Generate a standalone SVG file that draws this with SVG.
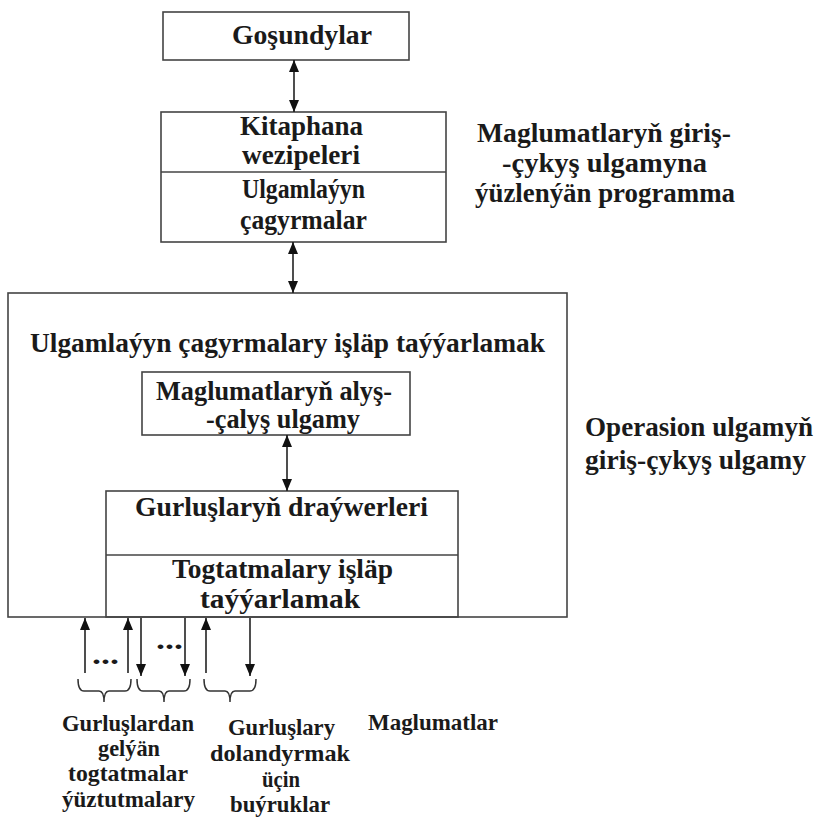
<svg xmlns="http://www.w3.org/2000/svg" width="817" height="818" viewBox="0 0 817 818">
  <style>
    .box { fill: none; stroke: #444; stroke-width: 1.6; }
    .div { stroke: #444; stroke-width: 1.4; }
    .t { font-family: "Liberation Serif", "Times New Roman", serif; font-weight: bold; font-size: 27px; fill: #1a1a1a; }
    .s { font-family: "Liberation Serif", "Times New Roman", serif; font-weight: bold; font-size: 23px; fill: #1a1a1a; }
    .d { font-family: "Liberation Serif", "Times New Roman", serif; font-weight: bold; font-size: 28px; fill: #1a1a1a; }
    .ln { stroke: #222; stroke-width: 1.6; fill: none; }
    .br { stroke: #333; stroke-width: 1.5; fill: none; }
  </style>
  <defs>
    <marker id="ah" viewBox="0 0 12 10" refX="12" refY="5" markerWidth="12" markerHeight="10" markerUnits="userSpaceOnUse" orient="auto-start-reverse">
      <path d="M0,0 L12,5 L0,10 z" fill="#111"/>
    </marker>
  </defs>
  <rect width="817" height="818" fill="#fff"/>

  <g id="gosundylar">
    <rect class="box" x="163" y="12" width="246" height="48"/>
    <text class="t" x="232" y="44" textLength="140" lengthAdjust="spacingAndGlyphs">Goşundylar</text>
  </g>

  <g id="kitaphana">
    <rect class="box" x="161" y="112" width="285" height="130"/>
    <line class="div" x1="161" y1="172" x2="446" y2="172"/>
    <text class="t" x="240" y="135" textLength="123" lengthAdjust="spacingAndGlyphs">Kitaphana</text>
    <text class="t" x="242" y="164" textLength="118" lengthAdjust="spacingAndGlyphs">wezipeleri</text>
    <text class="t" x="242" y="198" textLength="123" lengthAdjust="spacingAndGlyphs">Ulgamlaýyn</text>
    <text class="t" x="240" y="229" textLength="127" lengthAdjust="spacingAndGlyphs">çagyrmalar</text>
  </g>

  <g id="program-label">
    <text class="t" x="477" y="142" textLength="254" lengthAdjust="spacingAndGlyphs">Maglumatlaryň giriş-</text>
    <text class="t" x="502" y="172" textLength="205" lengthAdjust="spacingAndGlyphs">-çykyş ulgamyna</text>
    <text class="t" x="475" y="202" textLength="260" lengthAdjust="spacingAndGlyphs">ýüzlenýän programma</text>
  </g>

  <g id="os-io">
    <rect class="box" x="8" y="293" width="559" height="324"/>
    <text class="t" x="30" y="352" textLength="515" lengthAdjust="spacingAndGlyphs">Ulgamlaýyn çagyrmalary işläp taýýarlamak</text>
  </g>

  <g id="alys-calys">
    <rect class="box" x="142" y="372" width="268" height="63"/>
    <text class="t" x="156" y="400" textLength="236" lengthAdjust="spacingAndGlyphs">Maglumatlaryň alyş-</text>
    <text class="t" x="206" y="428" textLength="154" lengthAdjust="spacingAndGlyphs">-çalyş ulgamy</text>
  </g>

  <g id="drayverler">
    <rect class="box" x="106" y="491" width="352" height="126"/>
    <line class="div" x1="106" y1="555" x2="458" y2="555"/>
    <text class="t" x="135" y="516" textLength="293" lengthAdjust="spacingAndGlyphs">Gurluşlaryň draýwerleri</text>
    <text class="t" x="172" y="578" textLength="221" lengthAdjust="spacingAndGlyphs">Togtatmalary işläp</text>
    <text class="t" x="200" y="608" textLength="160" lengthAdjust="spacingAndGlyphs">taýýarlamak</text>
  </g>

  <g id="os-label">
    <text class="t" x="585" y="436" textLength="228" lengthAdjust="spacingAndGlyphs">Operasion ulgamyň</text>
    <text class="t" x="585" y="469" textLength="221" lengthAdjust="spacingAndGlyphs">giriş-çykyş ulgamy</text>
  </g>

  <g id="connectors">
    <line class="ln" x1="294" y1="60" x2="294" y2="112" marker-start="url(#ah)" marker-end="url(#ah)"/>
    <line class="ln" x1="293" y1="242" x2="293" y2="293" marker-start="url(#ah)" marker-end="url(#ah)"/>
    <line class="ln" x1="287" y1="435" x2="287" y2="491" marker-start="url(#ah)" marker-end="url(#ah)"/>
    <!-- signals coming up from devices -->
    <line class="ln" x1="85" y1="673" x2="85" y2="618" marker-end="url(#ah)"/>
    <line class="ln" x1="128" y1="673" x2="128" y2="618" marker-end="url(#ah)"/>
    <line class="ln" x1="206" y1="673" x2="206" y2="618" marker-end="url(#ah)"/>
    <!-- commands going down to devices -->
    <line class="ln" x1="141" y1="618" x2="141" y2="676" marker-end="url(#ah)"/>
    <line class="ln" x1="185" y1="618" x2="185" y2="676" marker-end="url(#ah)"/>
    <line class="ln" x1="250" y1="618" x2="250" y2="676" marker-end="url(#ah)"/>
  </g>

  <g id="ellipses">
    <text class="d" x="92" y="664" textLength="27" lengthAdjust="spacingAndGlyphs">...</text>
    <text class="d" x="156" y="649" textLength="27" lengthAdjust="spacingAndGlyphs">...</text>
  </g>

  <g id="braces">
    <path class="br" d="M78,679 Q78,691 84,691 H99 Q104,691 104,702 Q104,691 109,691 H125 Q131,691 131,679"/>
    <path class="br" d="M137,679 Q137,691 143,691 H159 Q164,691 164,702 Q164,691 169,691 H184 Q190,691 190,679"/>
    <path class="br" d="M204,679 Q204,691 210,691 H225 Q230,691 230,702 Q230,691 235,691 H250 Q256,691 256,679"/>
  </g>

  <g id="bottom-labels">
    <text class="s" x="62" y="731" textLength="132" lengthAdjust="spacingAndGlyphs">Gurluşlardan</text>
    <text class="s" x="98" y="756" textLength="62" lengthAdjust="spacingAndGlyphs">gelýän</text>
    <text class="s" x="68" y="781" textLength="120" lengthAdjust="spacingAndGlyphs">togtatmalar</text>
    <text class="s" x="62" y="807" textLength="133" lengthAdjust="spacingAndGlyphs">ýüztutmalary</text>
    <text class="s" x="228" y="735" textLength="107" lengthAdjust="spacingAndGlyphs">Gurluşlary</text>
    <text class="s" x="210" y="761" textLength="140" lengthAdjust="spacingAndGlyphs">dolandyrmak</text>
    <text class="s" x="262" y="787" textLength="38" lengthAdjust="spacingAndGlyphs">üçin</text>
    <text class="s" x="230" y="812" textLength="100" lengthAdjust="spacingAndGlyphs">buýruklar</text>
    <text class="s" x="368" y="730" textLength="130" lengthAdjust="spacingAndGlyphs">Maglumatlar</text>
  </g>
</svg>
